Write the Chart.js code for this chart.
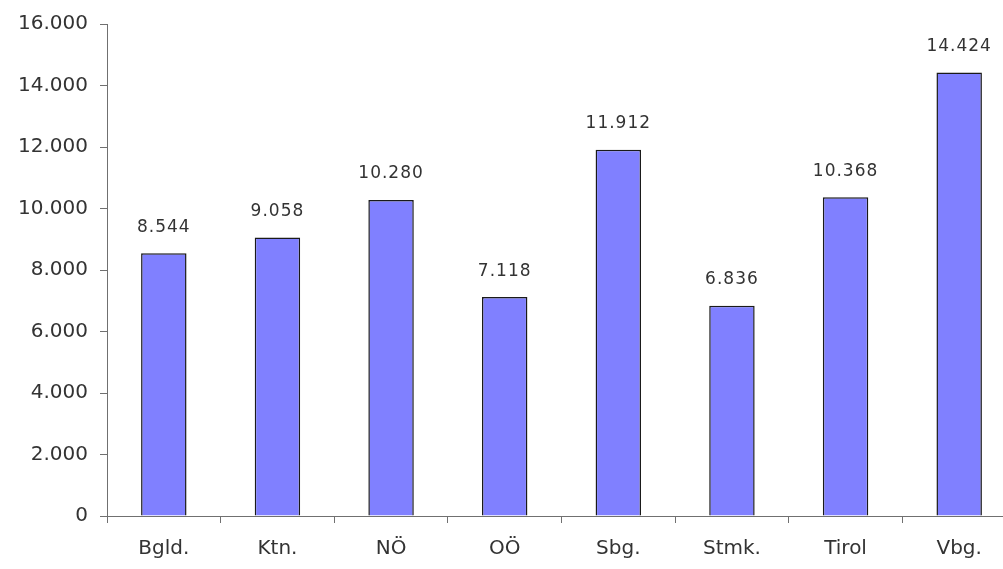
<!DOCTYPE html>
<html>
<head>
<meta charset="utf-8">
<script src="https://cdn.jsdelivr.net/npm/chart.js@4"></script>
<style>
html,body{margin:0;padding:0;background:#fff;overflow:hidden;}
#wrap{width:1016px;height:569px;position:relative;}
</style>
</head>
<body>
<div id="wrap"><canvas id="c"></canvas></div>
<script>
const categories = ["Bgld.", "Ktn.", "NÖ", "OÖ", "Sbg.", "Stmk.", "Tirol", "Vbg."];
const values = [8544, 9058, 10280, 7118, 11912, 6836, 10368, 14424];
const yTicks = [0, 2000, 4000, 6000, 8000, 10000, 12000, 14000, 16000];

function fmt(v){ return String(v).replace(/\B(?=(\d{3})+(?!\d))/g, "."); }

const FONT = "'DejaVu Sans', sans-serif";

const valueLabels = {
  id: 'valueLabels',
  afterDatasetsDraw(chart){
    const ctx = chart.ctx;
    const meta = chart.getDatasetMeta(0);
    ctx.save();
    ctx.font = "17px " + FONT;
    ctx.fillStyle = "#333";
    ctx.textAlign = "center";
    ctx.textBaseline = "middle";
    try { ctx.letterSpacing = "1px"; } catch(e){}
    meta.data.forEach((bar, i) => {
      ctx.fillText(fmt(chart.data.datasets[0].data[i]), bar.x, bar.y - 26);
    });
    ctx.restore();
  }
};

new Chart(document.getElementById('c'), {
  type: 'bar',
  data: {
    labels: categories,
    datasets: [{
      data: values,
      backgroundColor: '#8080FF',
      borderColor: '#1a1a1a',
      borderWidth: 1.5,
      borderSkipped: 'bottom',
      barPercentage: 0.4,
      categoryPercentage: 1.0
    }]
  },
  options: {
    responsive: true,
    maintainAspectRatio: false,
    animation: false,
    devicePixelRatio: 1,
    layout: { padding: { top: 24, right: 0, bottom: 0, left: 0 } },
    plugins: { legend: { display: false }, tooltip: { enabled: false } },
    scales: {
      x: {
        offset: true,
        grid: { display: true, offset: true, drawOnChartArea: false, tickLength: 7, color: '#707070', lineWidth: 1 },
        border: { display: true, color: '#707070', width: 1 },
        ticks: { color: '#333', font: { size: 20, family: FONT }, padding: 14, maxRotation: 0 },
        afterFit(s){ s.height = 53; }
      },
      y: {
        min: 0, max: 16000,
        afterBuildTicks(s){ s.ticks = yTicks.map(v => ({ value: v })); },
        grid: { display: true, drawOnChartArea: false, tickLength: 7, color: '#707070', lineWidth: 1 },
        border: { display: true, color: '#707070', width: 1 },
        ticks: { color: '#333', font: { size: 20, family: FONT }, padding: 12, callback: v => fmt(v) },
        afterFit(s){ s.width = 107; }
      }
    }
  },
  plugins: [valueLabels]
});
</script>
</body>
</html>
